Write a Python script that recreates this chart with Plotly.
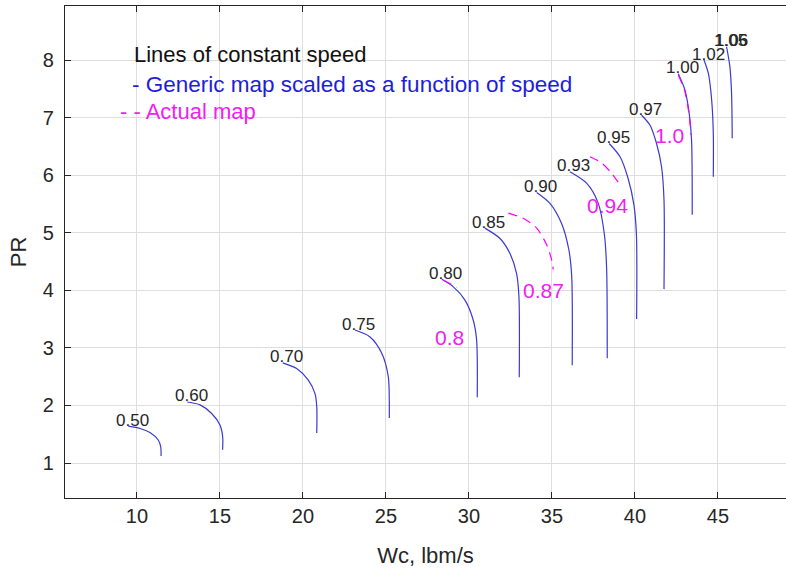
import plotly.graph_objects as go

# ---- Generic map (scaled as a function of speed), blue solid lines ----
GEN_SPEEDS = ["0.50", "0.60", "0.70", "0.75", "0.80", "0.85", "0.90",
              "0.93", "0.95", "0.97", "1.00", "1.02", "1.05"]
GEN_WC = [
    [9.48, 10.18, 10.78, 11.28, 11.43, 11.45],
    [13.03, 13.80, 14.50, 15.00, 15.16, 15.16],
    [18.78, 19.62, 20.32, 20.72, 20.83, 20.83],
    [23.13, 24.04, 24.74, 25.14, 25.20, 25.20],
    [28.36, 29.06, 29.76, 30.26, 30.46, 30.50],
    [30.96, 31.87, 32.47, 32.87, 33.01, 33.03],
    [34.08, 34.88, 35.58, 36.02, 36.19, 36.22],
    [36.08, 37.09, 37.79, 38.15, 38.29, 38.33],
    [38.45, 39.10, 39.58, 39.94, 40.09, 40.10],
    [40.40, 40.90, 41.30, 41.60, 41.75, 41.75],
    [42.61, 43.01, 43.27, 43.41, 43.45],
    [44.16, 44.42, 44.62, 44.72, 44.72],
    [45.52, 45.72, 45.82, 45.86],
]
GEN_PR = [
    [1.64, 1.60, 1.53, 1.40, 1.28, 1.12],
    [2.06, 2.01, 1.86, 1.66, 1.46, 1.23],
    [2.74, 2.64, 2.44, 2.21, 1.98, 1.52],
    [3.31, 3.19, 2.91, 2.50, 2.09, 1.78],
    [4.19, 4.06, 3.83, 3.48, 3.14, 2.14],
    [5.08, 4.90, 4.64, 4.29, 3.89, 2.49],
    [5.70, 5.51, 5.16, 4.70, 4.24, 2.70],
    [6.06, 5.86, 5.51, 4.99, 4.41, 2.82],
    [6.55, 6.32, 5.95, 5.48, 4.96, 3.50],
    [7.04, 6.87, 6.55, 6.15, 5.57, 4.02],
    [7.76, 7.48, 7.07, 6.61, 5.31],
    [8.00, 7.77, 7.31, 6.73, 5.97],
    [8.23, 7.88, 7.42, 6.64],
]
# extra overlapping label at the last line
EXTRA_LABEL = "1.06"

# ---- Actual map, magenta dashed lines ----
ACT_SPEEDS = ["0.8", "0.87", "0.94", "1.0"]
ACT_WC = [
    [28.45, 29.25],
    [32.37, 33.27, 34.08, 34.68, 34.98, 35.08],
    [37.29, 38.00, 38.60, 39.10],
    [42.61, 43.00, 43.25, 43.38],
]
ACT_PR = [
    [4.18, 4.05],
    [5.34, 5.25, 5.08, 4.79, 4.53, 4.36],
    [6.32, 6.21, 6.03, 5.83],
    [7.74, 7.46, 7.07, 6.70],
]
ACT_LABEL_WC = [28.84, 34.51, 38.33, 42.06]
ACT_LABEL_PR = [3.18, 4.00, 5.48, 6.68]

X_TICKS = [10, 15, 20, 25, 30, 35, 40, 45]
Y_TICKS = [1, 2, 3, 4, 5, 6, 7, 8]

BLUE = "#3a3ad0"
MAGENTA = "#ff00ff"
FONT = "Liberation Sans, Arial, sans-serif"

fig = go.Figure()

for wc, pr in zip(GEN_WC, GEN_PR):
    fig.add_trace(go.Scatter(x=wc, y=pr, mode="lines",
                             line=dict(color=BLUE, width=1.2, shape="spline",
                                       smoothing=0.8),
                             showlegend=False, hoverinfo="skip"))

for wc, pr in zip(ACT_WC, ACT_PR):
    fig.add_trace(go.Scatter(x=wc, y=pr, mode="lines",
                             line=dict(color=MAGENTA, width=1.2, dash="9px,6px",
                                       shape="spline", smoothing=0.8),
                             showlegend=False, hoverinfo="skip"))

annotations = []
for name, wc, pr in zip(GEN_SPEEDS, GEN_WC, GEN_PR):
    annotations.append(dict(x=wc[0], y=pr[0], text=name, showarrow=False,
                            xanchor="center", yanchor="middle",
                            xshift=4, yshift=6,
                            font=dict(family=FONT, size=17, color="#262626")))
annotations.append(dict(x=GEN_WC[-1][0], y=GEN_PR[-1][0], text=EXTRA_LABEL,
                        showarrow=False, xanchor="center", yanchor="middle",
                        xshift=5, yshift=6,
                        font=dict(family=FONT, size=17, color="#262626")))

for name, x, y in zip(ACT_SPEEDS, ACT_LABEL_WC, ACT_LABEL_PR):
    annotations.append(dict(x=x, y=y, text=name, showarrow=False,
                            xanchor="center", yanchor="middle",
                            font=dict(family=FONT, size=21, color="#f020f0")))

# legend-like text block
annotations.append(dict(x=9.68, y=8.087, text="Lines of constant speed",
                        showarrow=False, xanchor="left", yanchor="middle",
                        font=dict(family=FONT, size=22, color="#111111")))
annotations.append(dict(x=9.58, y=7.566,
                        text="- Generic map scaled as a function of speed",
                        showarrow=False, xanchor="left", yanchor="middle",
                        font=dict(family=FONT, size=22.5, color="#1e1ed8")))
annotations.append(dict(x=8.86, y=7.10, text="- - Actual map",
                        showarrow=False, xanchor="left", yanchor="middle",
                        font=dict(family=FONT, size=22, color="#f020f0")))

fig.update_layout(
    width=786, height=571,
    margin=dict(l=65, r=0, t=6, b=73, pad=0),
    paper_bgcolor="white", plot_bgcolor="white",
    annotations=annotations,
    font=dict(family=FONT, color="#262626"),
)
fig.update_xaxes(range=[5.663, 49.10], tickvals=X_TICKS, automargin=False,
                 showgrid=True, gridcolor="#dedede", gridwidth=1,
                 zeroline=False, showline=True, linecolor="#262626", linewidth=1.3,
                 mirror="ticks", ticks="inside", ticklen=6, tickcolor="#262626",
                 tickfont=dict(family=FONT, size=20, color="#262626"),
                 title=dict(text="Wc, lbm/s", standoff=21,
                            font=dict(family=FONT, size=22, color="#262626")))
fig.update_yaxes(range=[0.392, 8.938], tickvals=Y_TICKS, automargin=False,
                 showgrid=True, gridcolor="#dedede", gridwidth=1,
                 zeroline=False, showline=True, linecolor="#262626", linewidth=1.3,
                 mirror=False, ticks="inside", ticklen=6, tickcolor="#262626",
                 ticklabelstandoff=6,
                 tickfont=dict(family=FONT, size=20, color="#262626"),
                 title=dict(text="PR", standoff=10,
                            font=dict(family=FONT, size=22, color="#262626")))

fig.write_html(
    "out.html",
    config={"displayModeBar": False},
    post_script="document.body.style.margin='0';document.body.style.overflow='hidden';",
)
